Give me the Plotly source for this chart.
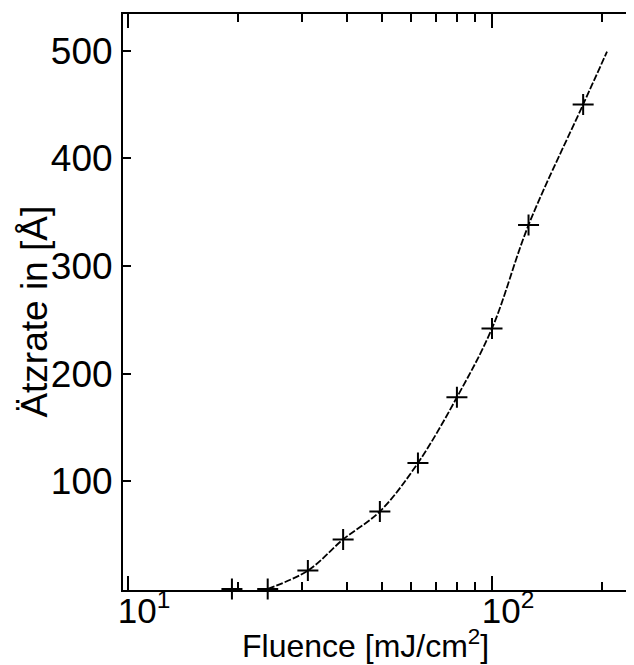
import plotly.graph_objects as go

# Measured data points (Fluence in mJ/cm^2, etch rate in Å)
fluence = [19.3, 24.2, 31.2, 39.0, 49.2, 62.6, 80.1, 100.0, 126.0, 178.0]
etch_rate = [0, 0, 17, 46, 72, 117, 178, 242, 338, 450]

# Fit curve
fit_x = [24.2, 31.2, 39.0, 49.2, 62.6, 80.1, 100.0, 126.0, 178.0, 207.0]
fit_y = [0, 17, 46, 72, 117, 178, 242, 338, 450, 499]

y_ticks = [100, 200, 300, 400, 500]
x_ticks = [10, 100]
x_ticktext = ["10<sup>1</sup>", "10<sup>2</sup>"]
x_minor = [20, 30, 40, 50, 60, 70, 80, 90, 200]

x_title = "Fluence [mJ/cm<sup>2</sup>]"
y_title = "Ätzrate in [Å]"

FONT = "Liberation Sans, Arial, sans-serif"

fig = go.Figure()
fig.add_trace(go.Scatter(
    x=fit_x, y=fit_y, mode="lines",
    line=dict(color="black", width=1.8, shape="spline", dash="7px,2px"),
    hoverinfo="skip", showlegend=False, cliponaxis=False))
fig.add_trace(go.Scatter(
    x=fluence, y=etch_rate, mode="markers",
    marker=dict(symbol="cross-thin", size=15, line=dict(color="black", width=2)),
    showlegend=False, cliponaxis=False))

# The page body adds an 8px margin; size the figure so the whole picture fits.
fig.update_layout(
    width=626, height=657,
    margin=dict(l=115, r=0, t=6, b=75),
    paper_bgcolor="white", plot_bgcolor="white",
    font=dict(family=FONT, size=32, color="black"),
    xaxis=dict(
        type="log", range=[0.9863, 2.3901], automargin=False,
        tickmode="array", tickvals=x_ticks, ticktext=x_ticktext,
        ticks="inside", ticklen=14, tickwidth=1.5, tickcolor="black",
        minor=dict(tickmode="array", tickvals=x_minor, ticks="inside", ticklen=8,
                   tickwidth=1.5, tickcolor="black", showgrid=False),
        showline=True, linecolor="black", linewidth=2, mirror="ticks",
        showgrid=False, zeroline=False,
        tickfont=dict(size=35),
        ticklabelshift=16, ticklabelstandoff=-11,
    ),
    yaxis=dict(
        range=[-1, 534], automargin=False,
        tickmode="array", tickvals=y_ticks,
        ticks="inside", ticklen=8, tickwidth=1.5, tickcolor="black",
        showline=True, linecolor="black", linewidth=2, mirror="ticks",
        showgrid=False, zeroline=False,
        tickfont=dict(size=37),
        ticklabelstandoff=1,
    ),
    annotations=[
        dict(text=x_title, xref="paper", yref="paper", x=0.4736, y=-0.1315,
             xanchor="center", yanchor="bottom", showarrow=False,
             font=dict(size=32, family=FONT, color="black")),
        dict(text=y_title, xref="paper", yref="paper", x=-0.1750, y=0.4826,
             xanchor="center", yanchor="middle", textangle=-90, showarrow=False,
             font=dict(size=37, family=FONT, color="black")),
    ],
)

fig.write_html("out.html")
